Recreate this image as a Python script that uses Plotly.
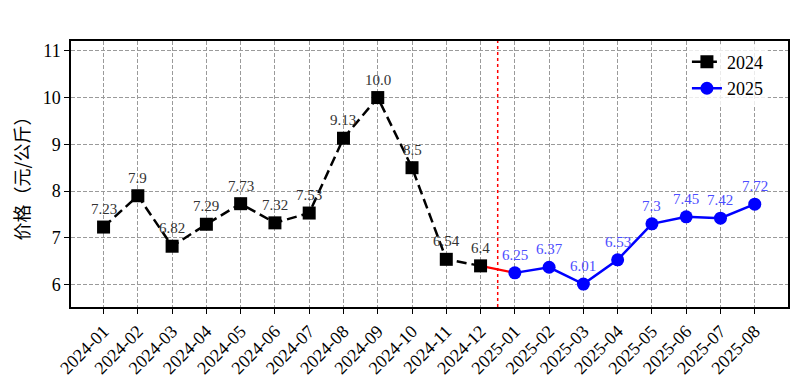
import plotly.graph_objects as go

months = ["2024-01","2024-02","2024-03","2024-04","2024-05","2024-06","2024-07","2024-08",
          "2024-09","2024-10","2024-11","2024-12","2025-01","2025-02","2025-03","2025-04",
          "2025-05","2025-06","2025-07","2025-08"]
months_2024 = months[:12]
months_2025 = months[12:]
price_2024 = [7.23, 7.9, 6.82, 7.29, 7.73, 7.32, 7.53, 9.13, 10.0, 8.5, 6.54, 6.4]
price_2025 = [6.25, 6.37, 6.01, 6.53, 7.3, 7.45, 7.42, 7.72]
labels_2024 = ["7.23", "7.9", "6.82", "7.29", "7.73", "7.32", "7.53", "9.13", "10.0", "8.5", "6.54", "6.4"]
labels_2025 = ["6.25", "6.37", "6.01", "6.53", "7.3", "7.45", "7.42", "7.72"]
y_ticks = [6, 7, 8, 9, 10, 11]

serif = "Liberation Serif, DejaVu Serif, serif"

fig = go.Figure()

# connector between years
fig.add_trace(go.Scatter(
    x=[months_2024[-1], months_2025[0]], y=[price_2024[-1], price_2025[0]],
    mode="lines", line=dict(color="red", width=2.2), showlegend=False, hoverinfo="skip"))

fig.add_trace(go.Scatter(
    x=months_2024, y=price_2024, mode="lines+markers", name="2024",
    line=dict(color="black", width=2.5, dash="10px,5px"),
    marker=dict(symbol="square", size=13, color="black")))

fig.add_trace(go.Scatter(
    x=months_2025, y=price_2025, mode="lines+markers", name="2025",
    line=dict(color="blue", width=2.5),
    marker=dict(symbol="circle", size=13, color="blue")))

for m, v, t in zip(months_2024, price_2024, labels_2024):
    fig.add_annotation(x=m, y=v, text=t, showarrow=False, yanchor="bottom", yshift=8,
                       font=dict(family=serif, size=15, color="#333333"))
for m, v, t in zip(months_2025, price_2025, labels_2025):
    fig.add_annotation(x=m, y=v, text=t, showarrow=False, yanchor="bottom", yshift=8,
                       font=dict(family=serif, size=15, color="#4d4dff"))

# divider between years
fig.add_shape(type="line", xref="x", yref="paper", x0=11.5, x1=11.5, y0=0, y1=1,
              line=dict(color="red", width=1.5, dash="dot"))

fig.update_layout(
    width=793, height=384,
    margin=dict(l=63, r=13, t=33, b=85, autoexpand=False),
    paper_bgcolor="white", plot_bgcolor="white",
    font=dict(family=serif, size=16, color="black"),
    legend=dict(x=0.972, y=0.99, xanchor="right", yanchor="top",
                bgcolor="rgba(255,255,255,0.8)", font=dict(family=serif, size=18)),
)
fig.update_xaxes(
    type="category", categoryorder="array", categoryarray=months,
    tickvals=months, ticktext=months,
    range=[-0.95, 19.97], tickangle=-45,
    showgrid=True, gridcolor="#9a9a9a", griddash="4px,2px", gridwidth=1,
    showline=True, linecolor="black", linewidth=1.5, mirror=True,
    ticks="outside", ticklen=5, tickcolor="black",
    tickfont=dict(family=serif, size=18))
fig.update_yaxes(
    range=[5.52, 11.21], tickvals=y_ticks,
    showgrid=True, gridcolor="#9a9a9a", griddash="4px,2px", gridwidth=1,
    showline=True, linecolor="black", linewidth=1.5, mirror=True,
    ticks="outside", ticklen=5, tickcolor="black", zeroline=False,
    tickfont=dict(family=serif, size=18),
    title=dict(text="价格（元/公斤）", font=dict(family="Noto Sans CJK SC", size=18), standoff=11))

fig.write_html("out.html")
